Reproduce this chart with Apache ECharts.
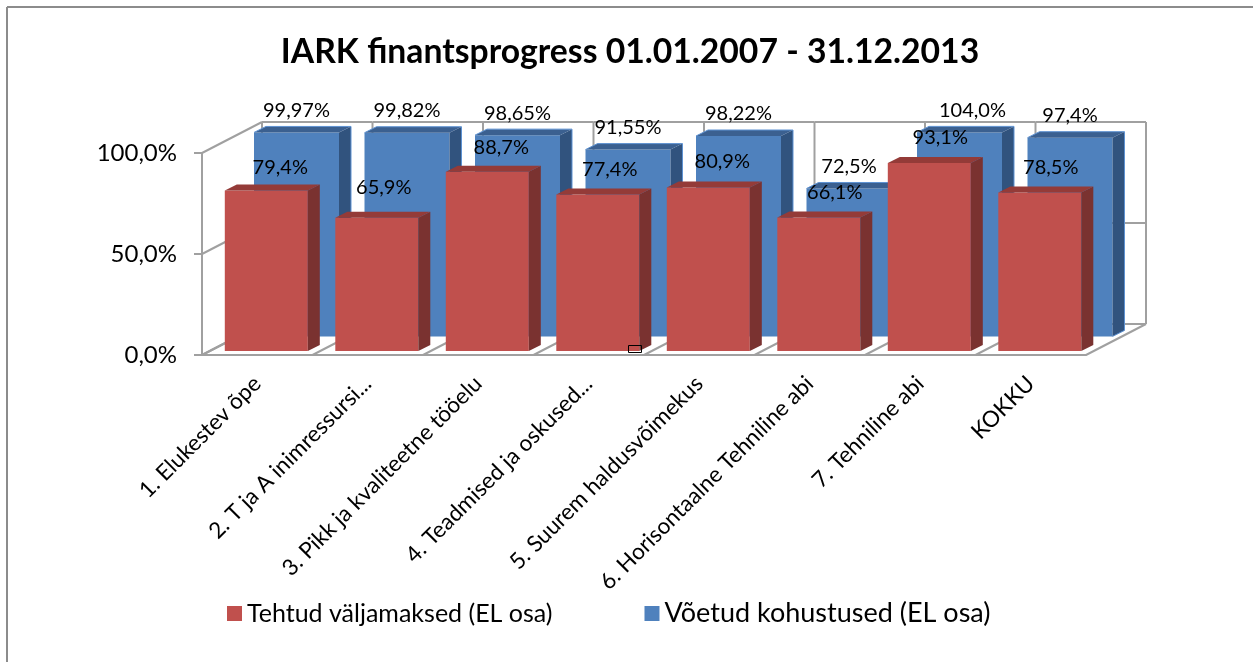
<!DOCTYPE html>
<html>
<head>
    <meta charset="UTF-8">
    <title>IARK finantsprogress</title>
    <style>
        html, body { margin: 0; padding: 0; background: #fff; }
        #main1 { width: 1253px; height: 662px; }
    </style>
    <script src="https://cdn.jsdelivr.net/npm/echarts@6/dist/echarts.min.js"></script>
</head>
<body>
<div id="main1"></div>
<script type="text/javascript">
    // data
    var categories = ['1. Elukestev õpe', '2. T ja A inimressursi...', '3. Pikk ja kvaliteetne tööelu', '4. Teadmised ja oskused...', '5. Suurem haldusvõimekus', '6. Horisontaalne Tehniline abi', '7. Tehniline abi', 'KOKKU'];
    var paid = [79.4, 65.9, 88.7, 77.4, 80.9, 66.1, 93.1, 78.5];
    var committed = [99.97, 99.82, 98.65, 91.55, 98.22, 72.5, 104.0, 97.4];
    var paidLabels = ['79,4%', '65,9%', '88,7%', '77,4%', '80,9%', '66,1%', '93,1%', '78,5%'];
    var committedLabels = ['99,97%', '99,82%', '98,65%', '91,55%', '98,22%', '72,5%', '104,0%', '97,4%'];

    // hand placed labels in the original
    var paidLabelDx = [14, 7, 14, 12, 14, 16, 11, 11];
    var paidLabelDy = [-23, -30, -24, -25, -26, -25, -25, -25];
    var committedLabelDx = [0, 0, 0, 0, 0, 0, 13, 0];
    var committedLabelDy = [-22, -22, -22, -22, -22, -22, -22, -22];

    var FONT = 'Lato, "Noto Sans", sans-serif';
    var GRID_COLOR = '#a0a0a0';
    var DEPTH_X = 60, DEPTH_Y = -31;       // front plane to back wall
    var BAR_DX = 12, BAR_DY = -6;          // depth of one bar
    var AXIS_MAX = 100;

    var chartDom = document.getElementById('main1');
    var myChart = echarts.init(chartDom);

    function line(x1, y1, x2, y2) {
        return {
            type: 'line',
            shape: { x1: x1, y1: y1, x2: x2, y2: y2 },
            style: { stroke: GRID_COLOR, lineWidth: 2 }
        };
    }

    // back wall, side wall and floor lines, one segment per category
    function renderWall(params, api) {
        var idx = api.value(0);
        var band = api.size([1, 0])[0];
        var left = api.coord([idx, 0])[0] - band / 2;
        var children = [];
        [0, 50, 100].forEach(function (v) {
            var y = api.coord([idx, v])[1];
            children.push(line(left + DEPTH_X, y + DEPTH_Y, left + band + DEPTH_X, y + DEPTH_Y));
            if (idx === 0) {
                children.push(line(left, y, left + DEPTH_X, y + DEPTH_Y));
            }
        });
        var y0 = api.coord([idx, 0])[1];
        var y100 = api.coord([idx, 100])[1];
        children.push(line(left + DEPTH_X, y0 + DEPTH_Y, left + DEPTH_X, y100 + DEPTH_Y));
        children.push(line(left, y0, left + DEPTH_X, y0 + DEPTH_Y));
        if (idx === categories.length - 1) {
            children.push(line(left + band, y0, left + band + DEPTH_X, y0 + DEPTH_Y));
            children.push(line(left + band + DEPTH_X, y0 + DEPTH_Y, left + band + DEPTH_X, y100 + DEPTH_Y));
        }
        return { type: 'group', children: children };
    }

    function poly(points, color) {
        return { type: 'polygon', shape: { points: points }, style: { fill: color } };
    }

    // one box with front, side and top faces; depth is 0..1 from front plane to wall
    function renderBar(cfg) {
        return function (params, api) {
            var idx = api.value(0);
            var val = Math.min(api.value(1), AXIS_MAX);   // the 104% bar is cut at the axis top
            var band = api.size([1, 0])[0];
            var w = cfg.width;
            var x = api.coord([idx, 0])[0] - band / 2 + DEPTH_X * cfg.depth + cfg.gap;
            var base = api.coord([idx, 0])[1] + DEPTH_Y * cfg.depth;
            var top = base - api.size([0, val])[1] * cfg.scale;
            var r = x + w;
            var faces = [
                poly([[x, top], [r, top], [r, base], [x, base]], cfg.colors[0]),
                poly([[r, top], [r + BAR_DX, top + BAR_DY], [r + BAR_DX, base + BAR_DY], [r, base]], cfg.colors[1]),
                poly([[x, top], [x + BAR_DX, top + BAR_DY], [r + BAR_DX, top + BAR_DY], [r, top]], cfg.colors[2])
            ];
            if (cfg.edge) {
                faces.push({
                    type: 'polyline',
                    shape: { points: [[x, top], [x + BAR_DX, top + BAR_DY], [r + BAR_DX, top + BAR_DY], [r + BAR_DX, base + BAR_DY], [r, base]] },
                    style: { fill: 'none', stroke: cfg.edge, lineWidth: 1 }
                });
            }
            faces.push({
                type: 'text',
                z2: 10,
                style: {
                    text: cfg.labels[idx],
                    x: x + w / 2 + cfg.labelDx[idx],
                    y: top + cfg.labelDy[idx],
                    align: 'center',
                    verticalAlign: 'middle',
                    fill: '#000',
                    font: '20px ' + FONT
                }
            });
            return { type: 'group', children: faces };
        };
    }

    function rows(values) {
        return values.map(function (v, i) { return [i, v]; });
    }

    var option = {
        animation: false,
        backgroundColor: '#fff',
        title: {
            text: 'IARK finantsprogress 01.01.2007 - 31.12.2013',
            left: 625,
            top: 30,
            textAlign: 'center',
            textStyle: { fontFamily: FONT, fontSize: 33.7, fontWeight: 'bold', color: '#000' }
        },
        legend: {
            left: 222,
            top: 595,
            icon: 'rect',
            itemWidth: 15,
            itemHeight: 15,
            itemGap: 92,
            data: [
                { name: 'Tehtud väljamaksed (EL osa)' },
                { name: 'Võetud kohustused (EL osa)', textStyle: { fontSize: 27 } }
            ],
            textStyle: { fontFamily: FONT, fontSize: 25, color: '#000' }
        },
        grid: { left: 202, top: 153, width: 884, height: 202 },
        xAxis: {
            type: 'category',
            data: categories,
            axisLine: { lineStyle: { color: GRID_COLOR, width: 2 } },
            axisTick: { length: 9, lineStyle: { color: GRID_COLOR, width: 2 } },
            axisLabel: {
                interval: 0,
                rotate: 45,
                margin: 25,
                fontFamily: FONT,
                fontSize: 22.5,
                color: '#000'
            }
        },
        yAxis: {
            type: 'value',
            min: 0,
            max: AXIS_MAX,
            interval: 50,
            splitLine: { show: false },
            axisLine: { show: true, lineStyle: { color: GRID_COLOR, width: 2 } },
            axisTick: { show: true, length: 8, lineStyle: { color: GRID_COLOR, width: 2 } },
            axisLabel: {
                margin: 25,
                fontFamily: FONT,
                fontSize: 24,
                color: '#000',
                formatter: function (v) { return v.toFixed(1).replace('.', ',') + '%'; }
            }
        },
        series: [
            {
                type: 'custom',
                name: 'wall',
                silent: true,
                clip: false,
                renderItem: renderWall,
                data: rows(paid)
            },
            {
                type: 'custom',
                name: 'Võetud kohustused (EL osa)',
                clip: false,
                itemStyle: { color: '#4F81BD' },
                renderItem: renderBar({
                    depth: 0.6, gap: 16, width: 85, scale: 1.01,
                    colors: ['#4F81BD', '#31537E', '#3B6090'], edge: '#5E92D2',
                    labels: committedLabels, labelDx: committedLabelDx, labelDy: committedLabelDy
                }),
                data: rows(committed)
            },
            {
                type: 'custom',
                name: 'Tehtud väljamaksed (EL osa)',
                clip: false,
                itemStyle: { color: '#C0504D' },
                renderItem: renderBar({
                    depth: 0.13, gap: 15, width: 83, scale: 1,
                    colors: ['#C0504D', '#7A3230', '#943B38'],
                    labels: paidLabels, labelDx: paidLabelDx, labelDy: paidLabelDy
                }),
                data: rows(paid)
            }
        ],
        graphic: [
            // outer frame, cut by the screenshot on the right and bottom
            { type: 'line', shape: { x1: 7, y1: 7, x2: 1253, y2: 7 }, style: { stroke: '#8c8c8c', lineWidth: 2 } },
            { type: 'line', shape: { x1: 7, y1: 7, x2: 7, y2: 662 }, style: { stroke: '#8c8c8c', lineWidth: 2 } },
            // small selection handle left on the picture
            { type: 'rect', z: 100, shape: { x: 628.5, y: 345.5, width: 13, height: 7 }, style: { fill: 'none', stroke: '#000', lineWidth: 1 } }
        ]
    };

    myChart.setOption(option);
</script>
</body>
</html>
